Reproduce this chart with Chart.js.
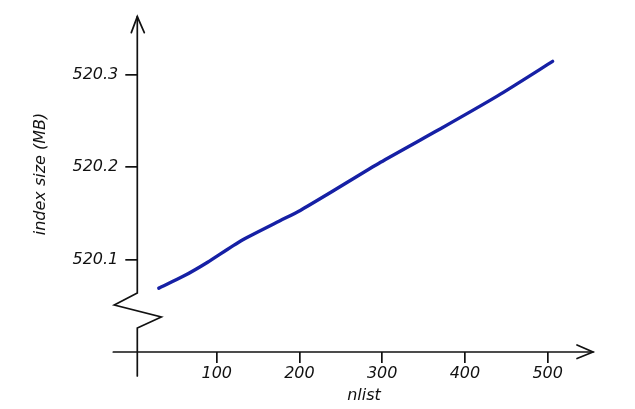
<!DOCTYPE html>
<html>
<head>
<meta charset="utf-8">
<script src="https://cdn.jsdelivr.net/npm/chart.js@4/dist/chart.umd.min.js"></script>
<style>
  html, body { margin: 0; padding: 0; background: #ffffff; }
  #wrap { width: 635px; height: 409px; }
</style>
</head>
<body>
<div id="wrap"><canvas id="c" width="635" height="409"></canvas></div>
<script>
// ---- data ----
const nlist = [30, 60, 89, 129, 177, 201, 237, 298, 370, 440, 506];
const indexSizeMB = [520.069, 520.082, 520.097, 520.120, 520.142, 520.153, 520.172, 520.205, 520.241, 520.277, 520.314];
const xTickValues = [100, 200, 300, 400, 500];
const yTickValues = [520.1, 520.2, 520.3];
const xTitle = 'nlist';
const yTitle = 'index size (MB)';

const FONT = 'italic 16px "DejaVu Sans"';
const INK = '#111111';

const axesPlugin = {
  id: 'sketchAxes',
  afterDraw(chart) {
    const ctx = chart.ctx;
    const xs = chart.scales.x, ys = chart.scales.y;
    const ax = xs.getPixelForValue(xs.min);
    const ay = ys.getPixelForValue(ys.min);
    const topY = ys.getPixelForValue(ys.max);
    const rightX = xs.getPixelForValue(xs.max);
    ctx.save();
    ctx.strokeStyle = INK;
    ctx.lineWidth = 1.7;
    ctx.lineCap = 'round';
    ctx.lineJoin = 'miter';
    // y axis with zig-zag break
    ctx.beginPath();
    ctx.moveTo(ax, topY);
    ctx.lineTo(ax, 293);
    ctx.lineTo(ax - 23, 305);
    ctx.lineTo(ax + 24, 317);
    ctx.lineTo(ax, 328);
    ctx.lineTo(ax, ay + 24);
    ctx.stroke();
    // x axis
    ctx.beginPath();
    ctx.moveTo(ax - 24, ay);
    ctx.lineTo(rightX, ay);
    ctx.stroke();
    // arrows
    ctx.beginPath();
    ctx.moveTo(ax - 6, topY + 16);
    ctx.lineTo(ax, topY);
    ctx.lineTo(ax + 7, topY + 16);
    ctx.moveTo(rightX - 16, ay - 7);
    ctx.lineTo(rightX, ay);
    ctx.lineTo(rightX - 16, ay + 6.5);
    ctx.stroke();
    // titles
    ctx.fillStyle = INK;
    ctx.font = FONT;
    ctx.textAlign = 'center';
    ctx.textBaseline = 'middle';
    ctx.fillText(xTitle, 364, 396);
    ctx.translate(41, 174);
    ctx.rotate(-Math.PI / 2);
    ctx.fillText(yTitle, 0, 0);
    ctx.restore();
  }
};

new Chart(document.getElementById('c'), {
  type: 'line',
  data: {
    datasets: [{
      data: nlist.map((n, i) => ({ x: n, y: indexSizeMB[i] })),
      borderColor: 'rgb(22, 32, 165)',
      borderWidth: 3.4,
      borderCapStyle: 'round',
      pointRadius: 0,
      tension: 0.2,
      fill: false
    }]
  },
  options: {
    responsive: false,
    animation: false,
    devicePixelRatio: 1,
    layout: { padding: { top: 14, right: 42, left: 0, bottom: 0 } },
    plugins: { legend: { display: false }, tooltip: { enabled: false } },
    scales: {
      x: {
        type: 'linear',
        min: 4,
        max: 554.8,
        afterFit(scale) { scale.height = 57; },
        afterBuildTicks(scale) { scale.ticks = xTickValues.map(v => ({ value: v })); },
        border: { display: false },
        grid: { drawOnChartArea: false, drawTicks: true, tickLength: 11, tickColor: INK, lineWidth: 1.7 },
        ticks: { color: INK, font: { family: 'DejaVu Sans', style: 'italic', size: 16 }, padding: 1, maxRotation: 0, autoSkip: false }
      },
      y: {
        type: 'linear',
        min: 520.0,
        max: 520.3624,
        afterFit(scale) { scale.width = 137.3; },
        afterBuildTicks(scale) { scale.ticks = yTickValues.map(v => ({ value: v })); },
        border: { display: false },
        grid: { drawOnChartArea: false, drawTicks: true, tickLength: 12, tickColor: INK, lineWidth: 1.7 },
        ticks: { color: INK, font: { family: 'DejaVu Sans', style: 'italic', size: 16 }, padding: 7, autoSkip: false,
                 callback: v => v.toFixed(1) }
      }
    }
  },
  plugins: [axesPlugin]
});
</script>
</body>
</html>
